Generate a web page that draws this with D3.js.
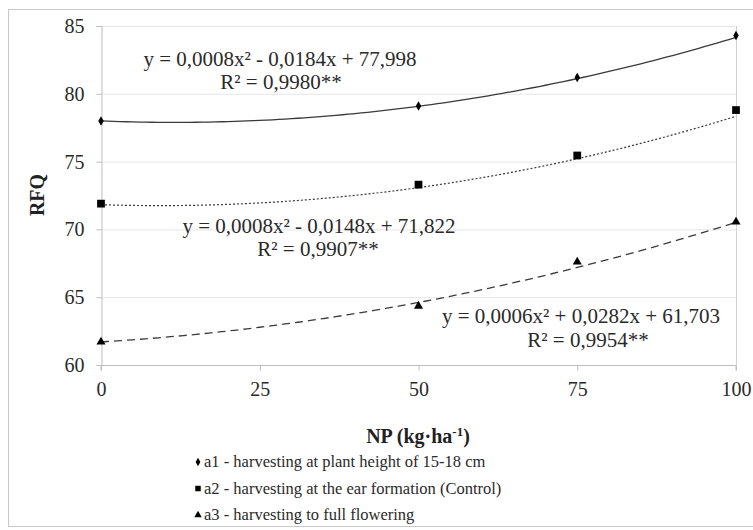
<!DOCTYPE html>
<html><head><meta charset="utf-8">
<script src="https://cdn.jsdelivr.net/npm/d3@7"></script>
<style>body{margin:0;background:#fff}svg{display:block}</style>
</head><body>
<script>
const doses = [0, 50, 75, 100];
const a1 = [78.0, 79.1, 81.2, 84.3];
const a2 = [71.9, 73.3, 75.45, 78.8];
const a3 = [61.7, 64.35, 67.6, 70.55];
const coefA1 = [0.0008, -0.0184, 77.998];
const coefA2 = [0.0008, -0.0148, 71.822];
const coefA3 = [0.0006, 0.0282, 61.703];
const xTicks = [0, 25, 50, 75, 100];
const yTicks = [60, 65, 70, 75, 80, 85];
const eqTexts = ["y = 0,0008x² - 0,0184x + 77,998", "y = 0,0008x² - 0,0148x + 71,822", "y = 0,0006x² + 0,0282x + 61,703"];
const r2Texts = ["R² = 0,9980**", "R² = 0,9907**", "R² = 0,9954**"];
const legendLabels = ["a1 - harvesting at plant height of 15-18 cm", "a2 - harvesting at the ear formation (Control)", "a3 - harvesting to full flowering"];

const W = 753, H = 530;
const FONT = "Liberation Serif";
const svg = d3.select("body").append("svg").attr("width", W).attr("height", H);
svg.append("rect").attr("x", 8.5).attr("y", 9.5).attr("width", 760).attr("height", 517).attr("fill", "none").attr("stroke", "#c8c8c8");

const x = d3.scaleLinear().domain([0, 100]).range([101, 736]);
const y = d3.scaleLinear().domain([60, 85]).range([365, 26]);

// grid
svg.append("g").selectAll("line").data(yTicks.slice(1)).join("line")
  .attr("x1", x(0)).attr("x2", x(100)).attr("y1", d => y(d)+0.5).attr("y2", d => y(d)+0.5)
  .attr("stroke", "#e6e6e6");
svg.append("line").attr("x1", x(100)+0.5).attr("x2", x(100)+0.5).attr("y1", y(85)).attr("y2", y(60)).attr("stroke", "#d0d0d0");

// axes
const gx = svg.append("g").attr("transform", `translate(0,${y(60)+0.5})`)
  .call(d3.axisBottom(x).tickValues(xTicks).tickSize(5).tickPadding(11));
const gy = svg.append("g").attr("transform", `translate(${x(0)+0.5},0)`)
  .call(d3.axisLeft(y).tickValues(yTicks).tickSize(5).tickPadding(12));
[gx, gy].forEach(g => {
  g.attr("font-family", null).attr("font-size", null);
  g.select(".domain").attr("stroke", "#bdbdbd");
  g.selectAll(".tick line").attr("stroke", "#bdbdbd");
  g.selectAll(".tick text").style("font-family", FONT).style("font-size", "20px").attr("fill", "#2a2a2a");
});
gx.select(".domain").attr("d", `M${x(0)},5V0H${x(100)}V5`);

// trendlines
const series = [
  {vals: a1, coef: coefA1, dash: null, w: 1.3},
  {vals: a2, coef: coefA2, dash: "2,2", w: 1.2},
  {vals: a3, coef: coefA3, dash: "8,5", w: 1.3}
];
const xs = d3.range(0, 100.5, 1);
const line = d3.line().x(d => x(d[0])).y(d => y(d[1]));
series.forEach(s => {
  const pts = xs.map(v => [v, s.coef[0]*v*v + s.coef[1]*v + s.coef[2]]);
  svg.append("path").attr("d", line(pts)).attr("fill", "none").attr("stroke", "#3a3a3a")
    .attr("stroke-width", s.w).attr("stroke-dasharray", s.dash);
});

// markers
const sym = [d3.symbolDiamond, d3.symbolSquare, d3.symbolTriangle];
const sizes = [26, 60, 36];
series.forEach((s, i) => {
  svg.append("g").selectAll("path").data(doses.map((d, j) => [d, s.vals[j]])).join("path")
    .attr("transform", d => `translate(${x(d[0])},${y(d[1])})`)
    .attr("d", d3.symbol().type(sym[i]).size(sizes[i])).attr("fill", "#000");
});

// equations
const eqPos = [[280, 66, 281, 89], [319, 233, 318, 256], [581, 323, 588, 347]];
eqTexts.forEach((t, i) => {
  svg.append("text").attr("x", eqPos[i][0]).attr("y", eqPos[i][1]).attr("text-anchor", "middle")
    .style("font-family", FONT).style("font-size", "21px").attr("fill", "#2a2a2a").text(t);
  svg.append("text").attr("x", eqPos[i][2]).attr("y", eqPos[i][3]).attr("text-anchor", "middle")
    .style("font-family", FONT).style("font-size", "21px").attr("fill", "#2a2a2a").text(r2Texts[i]);
});

// axis titles
const xt = svg.append("text").attr("x", 418).attr("y", 443).attr("text-anchor", "middle")
  .style("font-family", FONT).style("font-size", "20px").attr("font-weight", "bold").attr("fill", "#222");
xt.append("tspan").text("NP (kg·ha");
xt.append("tspan").attr("dy", -7).style("font-size", "13px").text("-1");
xt.append("tspan").attr("dy", 7).text(")");
svg.append("text").attr("transform", "translate(44,195) rotate(-90)").attr("text-anchor", "middle")
  .style("font-family", FONT).style("font-size", "20px").attr("font-weight", "bold").attr("fill", "#222").text("RFQ");

// legend
const lg = svg.append("g");
legendLabels.forEach((t, i) => {
  const ly = 467 + i * 26.5;
  lg.append("path").attr("transform", `translate(198,${ly - 5})`)
    .attr("d", d3.symbol().type(sym[i]).size([20, 30, 24][i])).attr("fill", "#000");
  lg.append("text").attr("x", 204).attr("y", ly)
    .style("font-family", FONT).style("font-size", "16.5px").attr("fill", "#2a2a2a").text(t);
});
</script>
</body></html>
